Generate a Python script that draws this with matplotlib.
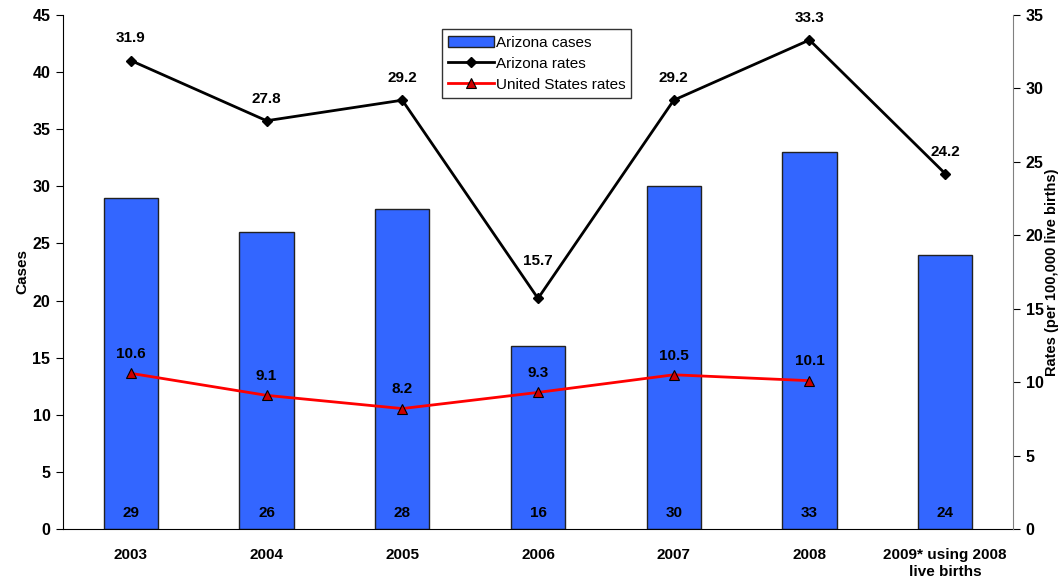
import matplotlib.pyplot as plt
import numpy as np

plt.rcParams["font.family"] = ["Liberation Sans", "DejaVu Sans"]

# Data
years = ["2003", "2004", "2005", "2006", "2007", "2008", "2009* using 2008\nlive births"]
az_cases = [29, 26, 28, 16, 30, 33, 24]
az_rates = [31.9, 27.8, 29.2, 15.7, 29.2, 33.3, 24.2]
us_rates = [10.6, 9.1, 8.2, 9.3, 10.5, 10.1]

x = np.arange(len(years))
fs = 11

fig = plt.figure(figsize=(10.62, 5.77), dpi=100)
ax = fig.add_axes([0.0593, 0.0832, 0.8946, 0.8908])
ax2 = ax.twinx()

bars = ax.bar(x, az_cases, width=0.4, color="#3366FF", edgecolor="#222222",
              linewidth=1, label="Arizona cases", zorder=2)
for xi, v in zip(x, az_cases):
    ax.text(xi, 1.4, str(v), ha="center", va="center", fontsize=fs,
            fontweight="bold", zorder=3)

ax.set_xlim(-0.5, len(years) - 0.5)
ax.set_ylim(0, 45)
ax.set_yticks(range(0, 46, 5))
ax.set_xticks(x)
ax.set_xticklabels(years, fontsize=fs, fontweight="bold")
ax.tick_params(axis="x", length=0, pad=14)
ax.tick_params(axis="y", labelsize=fs + 0.5, length=5, direction="out", pad=4)
for lbl in ax.get_yticklabels():
    lbl.set_fontweight("bold")
ax.set_ylabel("Cases", fontsize=fs, fontweight="bold", labelpad=2)
ax.spines["top"].set_visible(False)
ax.spines["right"].set_visible(False)

# Rate lines on the secondary axis
l1, = ax2.plot(x, az_rates, color="black", lw=2, marker="D", ms=5,
               label="Arizona rates", zorder=4)
l2, = ax2.plot(x[:len(us_rates)], us_rates, color="red", lw=2, marker="^",
               ms=7, mfc="#CC0000", mec="black", mew=0.8,
               label="United States rates", zorder=4)
for xi, v in zip(x, az_rates):
    dy = 24 if v < 20 else 13
    ax2.annotate(f"{v}", (xi, v), textcoords="offset points", xytext=(0, dy),
                 ha="center", fontsize=fs, fontweight="bold")
for xi, v in zip(x, us_rates):
    ax2.annotate(f"{v}", (xi, v), textcoords="offset points", xytext=(0, 11),
                 ha="center", fontsize=fs, fontweight="bold")

ax2.set_ylim(0, 35)
ax2.set_yticks(range(0, 36, 5))
ax2.tick_params(axis="y", labelsize=fs + 0.5, length=5, direction="out", pad=4)
for lbl in ax2.get_yticklabels():
    lbl.set_fontweight("bold")
ax2.set_ylabel("Rates (per 100,000 live births)", fontsize=fs - 0.5,
               fontweight="bold", labelpad=1)
ax2.spines["top"].set_visible(False)
ax2.spines["left"].set_visible(False)
ax2.spines["bottom"].set_visible(False)
ax2.spines["right"].set_color("#808080")

leg = ax.legend([bars, l1, l2], ["Arizona cases", "Arizona rates", "United States rates"],
                loc="upper left", bbox_to_anchor=(0.399, 0.972), fontsize=fs,
                frameon=True, fancybox=False, edgecolor="black", borderpad=0.4,
                labelspacing=0.45, handlelength=3.0, handleheight=0.8,
                handletextpad=0.1, borderaxespad=0)
leg.get_frame().set_linewidth(1)
leg.set_zorder(10)

fig.savefig("out.png", dpi=100)
